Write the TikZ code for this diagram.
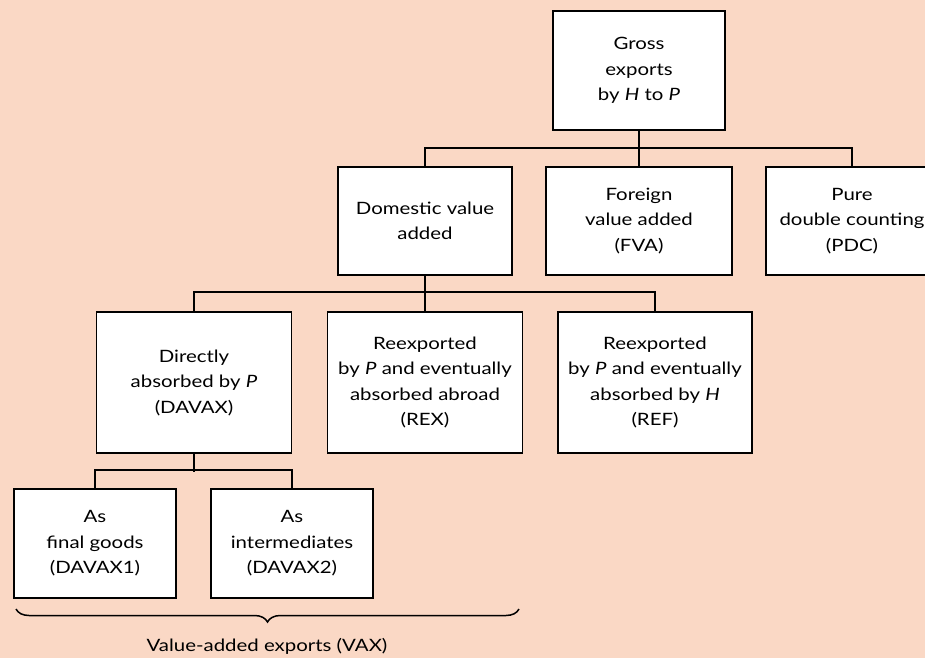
\documentclass[tikz,border=0pt]{standalone}
\usepackage{fontspec}
\setmainfont{Lato}[FakeStretch=1.2]
\usetikzlibrary{decorations.pathreplacing}
\definecolor{bg}{RGB}{250,216,197}
\begin{document}
\begin{tikzpicture}[x=1pt,y=-1pt,
  box/.style={draw=black,fill=white,line width=1.8pt,align=center,inner sep=0pt,
    font=\fontsize{17}{25.5}\selectfont},
  conn/.style={line width=1.8pt},
  lbl/.style={font=\fontsize{17}{25.5}\selectfont,inner sep=0pt}]
\fill[bg] (0,0) rectangle (925,658);
\useasboundingbox (0,0) rectangle (925,658);
\clip (0,0) rectangle (925,658);
% level 1
\node[box,minimum width=172pt,minimum height=119pt] (gross) at (639,70.5) {Gross\\exports\\by \textit{H} to \textit{P}};
% level 2
\node[box,minimum width=174pt,minimum height=108pt] (dom) at (425,221) {Domestic value\\added};
\node[box,minimum width=186pt,minimum height=108pt] (for) at (639,221) {Foreign\\value added\\(FVA)};
\node[box,minimum width=172pt,minimum height=108pt] (pure) at (852,221) {Pure\\double counting\\(PDC)};
% level 3
\node[box,minimum width=195pt,minimum height=141pt] (dir) at (194,382.5) {Directly\\absorbed by \textit{P}\\(DAVAX)};
\node[box,minimum width=195pt,minimum height=141pt] (rex) at (425,382.5) {Reexported\\by \textit{P} and eventually\\absorbed abroad\\(REX)};
\node[box,minimum width=194pt,minimum height=141pt] (ref) at (655,382.5) {Reexported\\by \textit{P} and eventually\\absorbed by \textit{H}\\(REF)};
% level 4
\node[box,minimum width=162pt,minimum height=109pt] (fin) at (95,543.5) {As\\final goods\\(DAVAX1)};
\node[box,minimum width=162pt,minimum height=109pt] (int) at (292,543.5) {As\\intermediates\\(DAVAX2)};
% connectors
\draw[conn] (gross.south) -- (for.north);
\draw[conn] (dom.north) -- ++(0,-18) -| (pure.north);
\draw[conn] (dom.south) -- (rex.north);
\draw[conn] (dir.north) -- ++(0,-19) -| (ref.north);
\draw[conn] (dir.south) -- ++(0,18);
\draw[conn] (fin.north) -- ++(0,-18) -| (int.north);
% brace
\coordinate (bl) at (16,609);
\coordinate (br) at (519,609);
\draw[line width=1.5pt,decorate,decoration={brace,mirror,amplitude=13pt}] (bl) -- (br);
\node[lbl] (vax) at (267,646) {Value-added exports (VAX)};
\end{tikzpicture}
\end{document}
